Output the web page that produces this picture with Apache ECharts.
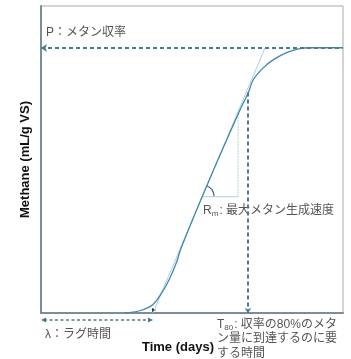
<!DOCTYPE html>
<html><head><meta charset="utf-8">
<script src="https://cdn.jsdelivr.net/npm/echarts@6/dist/echarts.min.js"></script>
<style>html,body{margin:0;padding:0;background:#fff;}#c{width:351px;height:359px;}</style>
</head><body><div id="c"></div>
<script>
// ---- data (days, mL/g VS) ----
const curveX = [8.3, 9.8, 11.1, 12.1, 12.8, 13.5, 13.9, 16.8, 19.8, 20.6, 21.1, 22.1, 23.1, 24.4, 25.7, 26.7, 30];
const curveY = [0, 2.2, 8.1, 21.4, 34.0, 50.5, 63.1, 131.9, 199.0, 215.5, 228.2, 239.8, 247.6, 254.4, 258.3, 259.2, 259.2];
const P = 259;               // methane yield
const lagTime = 11.13;       // lambda
const tangentX = [11.13, 22.25];
const tangentY = [0, 259];
const t80 = 20.56;
const t80Y = 215.5;
const rmX = [16.0, 19.57];
const rmY = 113.6;
const rmTopY = 196.6;
const xRange = [0, 30];
const yRange = [0, 300];

const labelP = 'P：メタン収率';
const labelRm = ': 最大メタン生成速度';
const labelLag = 'λ：ラグ時間';
const labelT80 = [': 収率の80%のメタ', 'ン量に到達するのに要', 'する時間'];
const xTitle = 'Time (days)';
const yTitle = 'Methane (mL/g VS)';

const cDash = '#4d7a8a', cCurve = '#4189ab', cTan = '#a6cfe3', cTri = '#b7cdd9', cAxis = '#7a8e98', cText = '#555';
const jp = '"Liberation Sans", "Noto Sans CJK JP", sans-serif';

const chart = echarts.init(document.getElementById('c'), null, {renderer: 'canvas'});
chart.setOption({
  animation: false,
  backgroundColor: '#fff',
  grid: {left: 41, right: 8, top: 6, bottom: 44, show: true, borderColor: '#a9a9a9', borderWidth: 1, backgroundColor: '#fff'},
  xAxis: {type: 'value', min: xRange[0], max: xRange[1],
    axisLine: {show: true, lineStyle: {color: cAxis, width: 2}}, axisTick: {show: false}, axisLabel: {show: false}, splitLine: {show: false},
    name: xTitle, nameLocation: 'middle', nameGap: 28,
    nameTextStyle: {fontFamily: '"Liberation Sans", Arial, sans-serif', fontWeight: 'bold', fontSize: 13, color: '#111', padding: [0, 28, 0, 0]}},
  yAxis: {type: 'value', min: yRange[0], max: yRange[1],
    axisLine: {show: true, lineStyle: {color: cAxis, width: 2}}, axisTick: {show: false}, axisLabel: {show: false}, splitLine: {show: false},
    name: yTitle, nameLocation: 'middle', nameGap: 9,
    nameTextStyle: {fontFamily: '"Liberation Sans", Arial, sans-serif', fontWeight: 'bold', fontSize: 13, color: '#111'}},
  series: [
    {type: 'line', name: 'tangent', data: tangentX.map((x, i) => [x, tangentY[i]]), symbol: 'none', silent: true, z: 2,
      lineStyle: {color: cTan, width: 1}},
    {type: 'line', name: 'rmH', data: rmX.map(x => [x, rmY]), symbol: 'none', silent: true, z: 2,
      lineStyle: {color: cTri, width: 1}},
    {type: 'line', name: 'rmV', data: [[rmX[1], rmY], [rmX[1], rmTopY]], symbol: 'none', silent: true, z: 2,
      lineStyle: {color: cTri, width: 1, type: [2, 1]}},
    {type: 'line', name: 'curve', data: curveX.map((x, i) => [x, curveY[i]]), symbol: 'none', smooth: 0.35, silent: true, z: 3,
      lineStyle: {color: cCurve, width: 1.3}},
    {type: 'line', name: 'marks', data: [], silent: true, z: 4,
      markLine: {silent: true, animation: false, label: {show: false}, emphasis: {disabled: true},
        data: [
          [{coord: [xRange[0], P], symbol: 'arrow', symbolSize: 6}, {coord: [xRange[1], P], symbol: 'none'}],
          [{coord: [t80, t80Y], symbol: 'none'}, {coord: [t80, 0], symbol: 'arrow', symbolSize: 5}]
        ],
        lineStyle: {color: cDash, width: 2, type: [4, 3]}}}
  ]
});

const px = (x, y) => chart.convertToPixel({gridIndex: 0}, [x, y]);
const o = px(xRange[0], 0), lg = px(lagTime, 0), pP = px(xRange[0], P);
const rmC = px(rmX[0], rmY);
const t1 = px(tangentX[0], tangentY[0]), t2 = px(tangentX[1], tangentY[1]);
const ang = Math.atan2(t2[1] - t1[1], t2[0] - t1[0]);
const tb = px(t80, 0);
const ay = o[1] + 7;

chart.setOption({graphic: [
  // lambda double arrow
  {type: 'line', silent: true, shape: {x1: o[0] + 3, y1: ay, x2: lg[0] - 3, y2: ay}, style: {stroke: cDash, lineWidth: 1.3, lineDash: [3, 2.5]}},
  {type: 'polygon', silent: true, shape: {points: [[o[0], ay], [o[0] + 5, ay - 2.5], [o[0] + 5, ay + 2.5]]}, style: {fill: cDash}},
  {type: 'polygon', silent: true, shape: {points: [[lg[0], ay], [lg[0] - 5, ay - 2.5], [lg[0] - 5, ay + 2.5]]}, style: {fill: cDash}},
  // small marker at tangent foot
  {type: 'polygon', silent: true, shape: {points: [[lg[0] - 1, o[1] - 1], [lg[0] - 1, o[1] - 5], [lg[0] + 3, o[1] - 3]]}, style: {fill: '#223'}},
  // angle arc
  {type: 'arc', silent: true, shape: {cx: rmC[0], cy: rmC[1], r: 12, startAngle: ang, endAngle: 0, clockwise: true}, style: {stroke: '#3d6f85', lineWidth: 1.2, fill: null}},
  // texts
  {type: 'text', silent: true, x: pP[0] + 5, y: pP[1] - 15, style: {text: labelP, font: '12px ' + jp, fill: cText, verticalAlign: 'middle'}},
  {type: 'text', silent: true, x: rmC[0] + 1, y: rmC[1] + 14, style: {
    text: '{a|R}{s|m}{a|' + labelRm + '}', verticalAlign: 'middle', fill: cText,
    rich: {a: {fontSize: 12, fontFamily: jp, fill: cText}, s: {fontSize: 8, fontFamily: jp, fill: cText, padding: [7, 1, 0, 0]}}}},
  {type: 'text', silent: true, x: o[0] + 4, y: o[1] + 22, style: {text: labelLag, font: '12px ' + jp, fill: cText, verticalAlign: 'middle'}},
  {type: 'text', silent: true, x: tb[0] - 31, y: tb[1] + 4, style: {
    text: '{a|T}{s|80}{a|' + labelT80[0] + '}\n{a|' + labelT80[1] + '}\n{a|' + labelT80[2] + '}', verticalAlign: 'top', fill: cText,
    rich: {a: {fontSize: 12, fontFamily: jp, fill: cText, lineHeight: 14.5}, s: {fontSize: 8, fontFamily: jp, fill: cText, padding: [7, 1, 0, 0], lineHeight: 14.5}}}}
]});
</script></body></html>
